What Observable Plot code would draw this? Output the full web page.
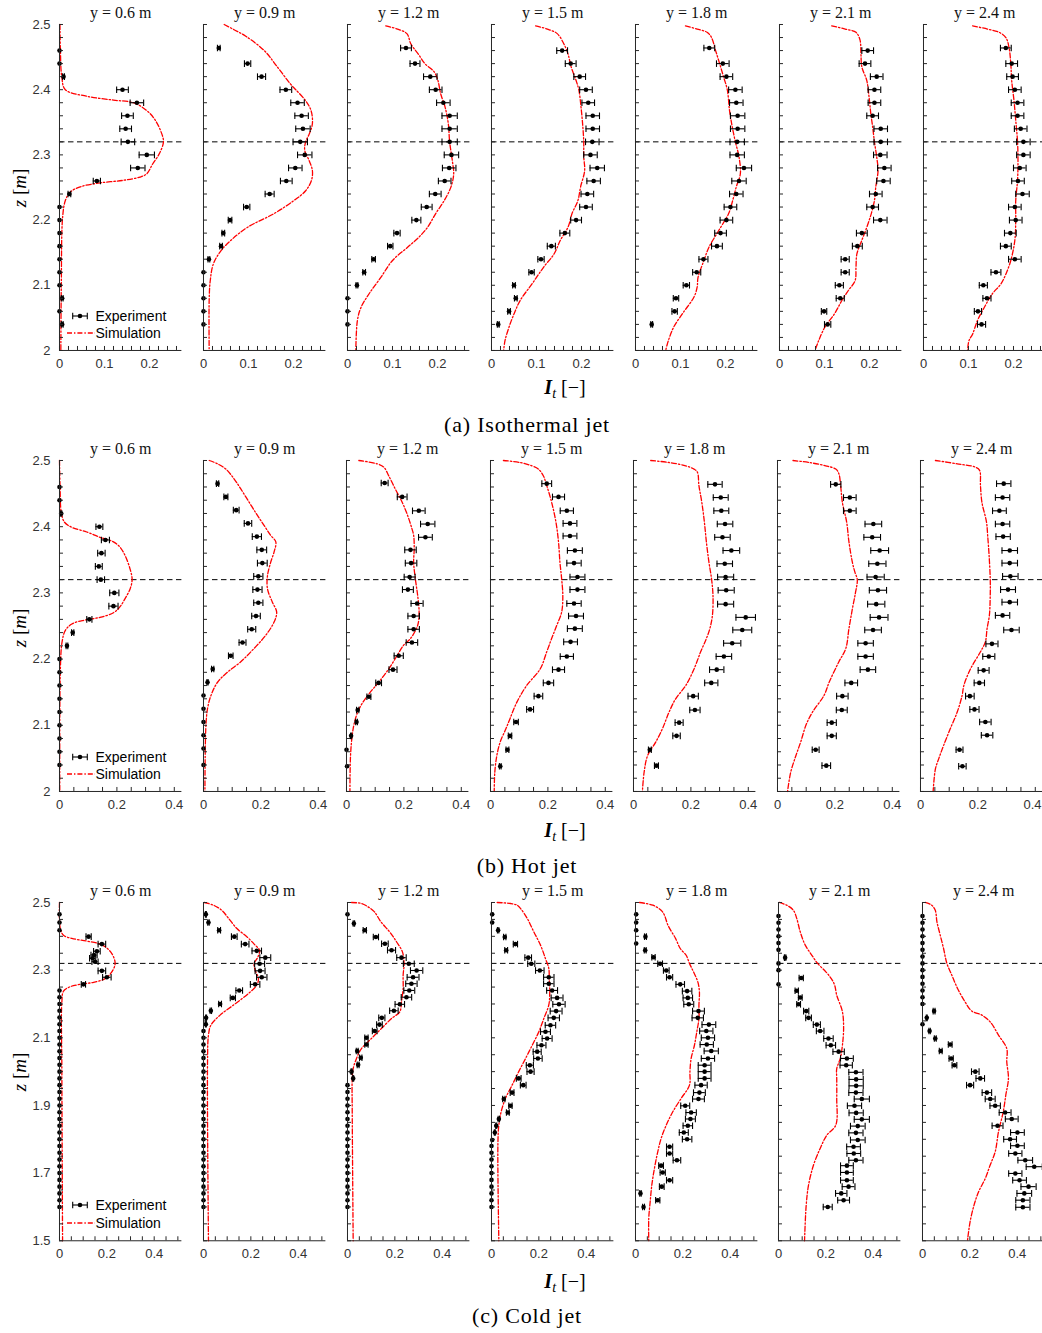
<!DOCTYPE html>
<html><head><meta charset="utf-8">
<script src="https://cdn.jsdelivr.net/npm/d3@7"></script>
<script src="https://cdn.jsdelivr.net/npm/@observablehq/plot@0.6"></script>
<style>
body{margin:0;background:#fff;}
#fig{position:relative;width:1042px;height:1333px;overflow:hidden;background:#fff;}
#fig svg.panel{position:absolute;}
#overlay{position:absolute;left:0;top:0;pointer-events:none;}
</style></head><body><div id="fig"></div>
<script>
// ---------- labels ----------
const yPositions = ["0.6","0.9","1.2","1.5","1.8","2.1","2.4"];
const captions = ["(a) Isothermal jet","(b) Hot jet","(c) Cold jet"];
const refZ = 2.32;
const xTicksA = [0,0.1,0.2], xTicksBC = [0,0.2,0.4];
const zTicksAB = [2,2.1,2.2,2.3,2.4,2.5], zTicksC = [1.5,1.7,1.9,2.1,2.3,2.5];

// ---------- (a) Isothermal jet: experiment [z, It, half error], simulation [z, It] ----------
const isoExp06 = [[2.46,0,0],[2.44,0,0],[2.42,0.009,0.002],[2.40,0.14,0.013],[2.38,0.172,0.015],[2.36,0.151,0.013],[2.34,0.147,0.013],[2.32,0.152,0.015],[2.30,0.194,0.017],[2.28,0.174,0.016],[2.26,0.083,0.008],[2.24,0.022,0.003],[2.22,0,0],[2.20,0,0],[2.18,0,0],[2.16,0,0],[2.14,0,0],[2.12,0,0],[2.10,0,0],[2.08,0.006,0.002],[2.06,0,0],[2.04,0.006,0.002]];
const isoSim06 = [[2.50,0.001],[2.46,0.002],[2.42,0.005],[2.40,0.013],[2.39,0.06],[2.384,0.12],[2.38,0.164],[2.368,0.194],[2.353,0.213],[2.333,0.227],[2.32,0.231],[2.302,0.222],[2.286,0.207],[2.271,0.194],[2.266,0.179],[2.261,0.142],[2.257,0.09],[2.251,0.046],[2.243,0.024],[2.23,0.013],[2.205,0.007],[2.1,0.004],[2.0,0.003]];
const isoExp09 = [[2.464,0.034,0.003],[2.44,0.098,0.007],[2.42,0.129,0.009],[2.40,0.183,0.013],[2.38,0.209,0.015],[2.36,0.218,0.015],[2.34,0.221,0.016],[2.32,0.215,0.016],[2.30,0.225,0.016],[2.28,0.204,0.015],[2.26,0.184,0.013],[2.24,0.147,0.01],[2.22,0.096,0.007],[2.20,0.059,0.004],[2.18,0.044,0.003],[2.16,0.039,0.003],[2.14,0.012,0.002],[2.12,0,0],[2.10,0,0],[2.08,0,0],[2.06,0,0],[2.04,0,0]];
const isoSim09 = [[2.5,0.046],[2.492,0.068],[2.482,0.094],[2.46,0.135],[2.435,0.164],[2.409,0.193],[2.40,0.205],[2.383,0.227],[2.368,0.239],[2.348,0.242],[2.332,0.235],[2.32,0.227],[2.307,0.225],[2.291,0.235],[2.276,0.242],[2.261,0.24],[2.245,0.227],[2.23,0.201],[2.21,0.157],[2.189,0.098],[2.169,0.061],[2.153,0.039],[2.133,0.022],[2.107,0.015],[2.077,0.0126],[2.0,0.0126]];
const isoExp12 = [[2.464,0.13,0.012],[2.44,0.15,0.011],[2.42,0.184,0.015],[2.40,0.196,0.014],[2.38,0.213,0.015],[2.36,0.227,0.017],[2.34,0.227,0.017],[2.32,0.227,0.017],[2.30,0.231,0.016],[2.28,0.226,0.015],[2.26,0.216,0.014],[2.24,0.195,0.013],[2.22,0.176,0.012],[2.20,0.153,0.01],[2.18,0.11,0.007],[2.16,0.095,0.006],[2.14,0.058,0.004],[2.12,0.037,0.003],[2.10,0.021,0.002],[2.08,0,0],[2.06,0,0],[2.04,0,0]];
const isoSim12 = [[2.498,0.085],[2.493,0.111],[2.486,0.132],[2.47,0.141],[2.455,0.157],[2.44,0.172],[2.427,0.193],[2.414,0.201],[2.394,0.207],[2.373,0.217],[2.348,0.224],[2.32,0.227],[2.291,0.233],[2.271,0.236],[2.251,0.23],[2.23,0.215],[2.21,0.196],[2.189,0.178],[2.174,0.159],[2.158,0.133],[2.138,0.1],[2.112,0.074],[2.087,0.048],[2.066,0.03],[2.046,0.022],[2.0,0.0185]];
const isoExp15 = [[2.46,0.157,0.012],[2.44,0.176,0.012],[2.42,0.196,0.013],[2.40,0.21,0.014],[2.38,0.215,0.014],[2.36,0.225,0.015],[2.34,0.225,0.015],[2.32,0.224,0.015],[2.30,0.22,0.015],[2.28,0.235,0.016],[2.26,0.227,0.015],[2.24,0.213,0.014],[2.22,0.21,0.014],[2.20,0.188,0.012],[2.18,0.163,0.011],[2.16,0.133,0.009],[2.14,0.11,0.007],[2.12,0.089,0.006],[2.10,0.05,0.003],[2.08,0.054,0.003],[2.06,0.039,0.003],[2.04,0.015,0.002]];
const isoSim15 = [[2.498,0.098],[2.493,0.124],[2.486,0.146],[2.47,0.161],[2.455,0.17],[2.435,0.177],[2.414,0.188],[2.4,0.194],[2.373,0.199],[2.343,0.203],[2.32,0.205],[2.297,0.205],[2.276,0.207],[2.251,0.198],[2.23,0.192],[2.21,0.179],[2.189,0.17],[2.169,0.153],[2.148,0.139],[2.128,0.116],[2.102,0.09],[2.077,0.064],[2.056,0.05],[2.036,0.039],[2.015,0.03],[2.0,0.027]];
const isoExp18 = [[2.464,0.164,0.012],[2.44,0.194,0.014],[2.42,0.202,0.014],[2.40,0.222,0.015],[2.38,0.224,0.015],[2.36,0.227,0.016],[2.34,0.227,0.016],[2.32,0.226,0.016],[2.30,0.226,0.016],[2.28,0.241,0.017],[2.26,0.23,0.016],[2.24,0.224,0.015],[2.22,0.211,0.014],[2.20,0.202,0.014],[2.18,0.189,0.013],[2.16,0.181,0.012],[2.14,0.151,0.01],[2.12,0.136,0.009],[2.10,0.113,0.007],[2.08,0.09,0.006],[2.06,0.087,0.006],[2.04,0.036,0.002]];
const isoSim18 = [[2.498,0.111],[2.493,0.137],[2.488,0.159],[2.48,0.169],[2.46,0.178],[2.44,0.187],[2.419,0.196],[2.4,0.204],[2.368,0.209],[2.343,0.215],[2.32,0.222],[2.297,0.23],[2.271,0.233],[2.251,0.224],[2.23,0.216],[2.21,0.207],[2.184,0.185],[2.158,0.163],[2.138,0.152],[2.112,0.139],[2.097,0.137],[2.082,0.13],[2.059,0.107],[2.036,0.085],[2.015,0.073],[2.0,0.067]];
const isoExp21 = [[2.46,0.196,0.013],[2.44,0.19,0.013],[2.42,0.216,0.014],[2.40,0.211,0.014],[2.38,0.211,0.014],[2.36,0.207,0.013],[2.34,0.225,0.015],[2.32,0.225,0.015],[2.30,0.224,0.015],[2.28,0.233,0.015],[2.26,0.231,0.015],[2.24,0.214,0.014],[2.22,0.207,0.013],[2.20,0.224,0.015],[2.18,0.183,0.012],[2.16,0.173,0.011],[2.14,0.146,0.009],[2.12,0.146,0.009],[2.10,0.133,0.009],[2.08,0.135,0.009],[2.06,0.099,0.006],[2.04,0.107,0.007]];
const isoSim21 = [[2.498,0.116],[2.493,0.146],[2.488,0.17],[2.476,0.179],[2.455,0.181],[2.435,0.183],[2.414,0.194],[2.389,0.199],[2.363,0.203],[2.343,0.207],[2.32,0.211],[2.297,0.216],[2.276,0.219],[2.251,0.214],[2.23,0.211],[2.21,0.204],[2.189,0.194],[2.169,0.183],[2.148,0.172],[2.128,0.17],[2.107,0.168],[2.092,0.153],[2.077,0.139],[2.056,0.122],[2.036,0.101],[2.015,0.087],[2.0,0.079]];
const isoExp24 = [[2.464,0.183,0.012],[2.44,0.196,0.013],[2.42,0.198,0.013],[2.40,0.203,0.014],[2.38,0.209,0.014],[2.36,0.209,0.014],[2.34,0.216,0.014],[2.32,0.222,0.015],[2.30,0.222,0.015],[2.28,0.214,0.014],[2.26,0.21,0.014],[2.24,0.22,0.015],[2.22,0.203,0.014],[2.20,0.205,0.014],[2.18,0.193,0.013],[2.16,0.183,0.012],[2.14,0.203,0.014],[2.12,0.161,0.011],[2.10,0.133,0.009],[2.08,0.141,0.009],[2.06,0.121,0.008],[2.04,0.129,0.009]];
const isoSim24 = [[2.498,0.109],[2.493,0.142],[2.488,0.168],[2.48,0.183],[2.465,0.19],[2.44,0.194],[2.414,0.196],[2.384,0.201],[2.353,0.205],[2.32,0.209],[2.291,0.21],[2.261,0.209],[2.23,0.205],[2.2,0.205],[2.169,0.203],[2.138,0.194],[2.117,0.183],[2.102,0.172],[2.087,0.153],[2.066,0.135],[2.046,0.12],[2.025,0.109],[2.015,0.101],[2.0,0.098]];

// ---------- (b) Hot jet ----------
const hotExp06 = [[2.46,0,0],[2.44,0,0],[2.42,0.006,0.002],[2.40,0.139,0.012],[2.38,0.16,0.014],[2.36,0.146,0.013],[2.34,0.137,0.012],[2.32,0.144,0.013],[2.30,0.191,0.016],[2.28,0.188,0.016],[2.26,0.104,0.009],[2.24,0.046,0.004],[2.22,0.026,0.003],[2.20,0,0],[2.18,0,0],[2.16,0,0],[2.14,0,0],[2.12,0,0],[2.10,0,0],[2.08,0,0],[2.06,0,0],[2.04,0,0]];
const hotSim06 = [[2.5,0],[2.46,0.002],[2.422,0.006],[2.407,0.017],[2.399,0.043],[2.392,0.095],[2.384,0.141],[2.377,0.188],[2.369,0.211],[2.357,0.228],[2.336,0.246],[2.32,0.253],[2.306,0.246],[2.291,0.228],[2.278,0.209],[2.27,0.188],[2.263,0.141],[2.259,0.089],[2.253,0.043],[2.243,0.02],[2.226,0.009],[2.185,0.003],[2.0,0.001]];
const hotExp09 = [[2.465,0.049,0.004],[2.445,0.078,0.007],[2.425,0.114,0.01],[2.405,0.155,0.013],[2.385,0.186,0.016],[2.365,0.203,0.017],[2.345,0.205,0.017],[2.325,0.191,0.016],[2.305,0.188,0.016],[2.285,0.191,0.016],[2.265,0.183,0.015],[2.245,0.168,0.014],[2.225,0.136,0.012],[2.205,0.095,0.008],[2.185,0.032,0.004],[2.165,0.014,0.002],[2.145,0,0],[2.125,0,0],[2.105,0,0],[2.085,0,0],[2.065,0,0],[2.04,0,0]];
const hotSim09 = [[2.5,0.02],[2.495,0.049],[2.487,0.078],[2.472,0.107],[2.457,0.13],[2.437,0.159],[2.417,0.188],[2.402,0.211],[2.387,0.234],[2.377,0.252],[2.362,0.246],[2.346,0.234],[2.326,0.223],[2.306,0.223],[2.286,0.24],[2.271,0.255],[2.256,0.246],[2.236,0.217],[2.216,0.176],[2.196,0.13],[2.18,0.083],[2.165,0.049],[2.145,0.026],[2.125,0.014],[2.095,0.008],[2.0,0.005]];
const hotExp12 = [[2.466,0.133,0.012],[2.445,0.194,0.017],[2.424,0.252,0.022],[2.404,0.283,0.025],[2.384,0.275,0.024],[2.365,0.223,0.02],[2.345,0.225,0.02],[2.324,0.22,0.019],[2.305,0.214,0.019],[2.284,0.246,0.021],[2.265,0.234,0.02],[2.245,0.234,0.02],[2.225,0.228,0.02],[2.205,0.182,0.016],[2.184,0.162,0.014],[2.164,0.112,0.01],[2.143,0.078,0.007],[2.123,0.039,0.004],[2.105,0.035,0.003],[2.084,0.016,0.002],[2.063,0,0],[2.038,0.002,0]];
const hotSim12 = [[2.5,0.043],[2.495,0.107],[2.49,0.13],[2.477,0.147],[2.457,0.17],[2.437,0.194],[2.417,0.213],[2.397,0.228],[2.387,0.234],[2.367,0.236],[2.346,0.234],[2.321,0.24],[2.296,0.248],[2.271,0.253],[2.251,0.248],[2.231,0.223],[2.221,0.199],[2.205,0.176],[2.185,0.147],[2.165,0.112],[2.144,0.072],[2.124,0.043],[2.105,0.028],[2.085,0.02],[2.054,0.014],[2.0,0.012]];
const hotExp15 = [[2.465,0.196,0.017],[2.445,0.237,0.021],[2.424,0.266,0.023],[2.405,0.277,0.024],[2.386,0.277,0.024],[2.364,0.294,0.026],[2.345,0.291,0.025],[2.324,0.303,0.026],[2.305,0.303,0.026],[2.284,0.291,0.025],[2.265,0.298,0.026],[2.246,0.294,0.026],[2.226,0.279,0.024],[2.204,0.266,0.023],[2.184,0.237,0.021],[2.164,0.202,0.018],[2.144,0.167,0.015],[2.124,0.138,0.012],[2.105,0.089,0.008],[2.084,0.068,0.006],[2.063,0.059,0.005],[2.038,0.034,0.003]];
const hotSim15 = [[2.5,0.045],[2.497,0.103],[2.492,0.144],[2.487,0.167],[2.477,0.184],[2.462,0.196],[2.437,0.213],[2.407,0.228],[2.377,0.237],[2.346,0.242],[2.321,0.248],[2.296,0.252],[2.271,0.248],[2.251,0.231],[2.231,0.213],[2.211,0.196],[2.185,0.173],[2.16,0.126],[2.135,0.092],[2.11,0.068],[2.095,0.054],[2.075,0.034],[2.054,0.022],[2.029,0.015],[2.0,0.013]];
const hotExp18 = [[2.464,0.284,0.025],[2.444,0.304,0.026],[2.424,0.306,0.026],[2.404,0.319,0.027],[2.384,0.31,0.027],[2.364,0.341,0.029],[2.344,0.318,0.027],[2.324,0.321,0.028],[2.304,0.323,0.028],[2.283,0.321,0.028],[2.263,0.391,0.034],[2.244,0.379,0.033],[2.224,0.344,0.03],[2.204,0.315,0.027],[2.184,0.29,0.025],[2.164,0.271,0.023],[2.144,0.208,0.018],[2.123,0.214,0.018],[2.104,0.159,0.014],[2.084,0.15,0.013],[2.063,0.057,0.005],[2.039,0.08,0.007]];
const hotSim18 = [[2.5,0.06],[2.497,0.124],[2.492,0.182],[2.487,0.211],[2.482,0.223],[2.462,0.228],[2.437,0.238],[2.407,0.247],[2.377,0.254],[2.346,0.263],[2.321,0.272],[2.296,0.277],[2.266,0.275],[2.246,0.266],[2.231,0.254],[2.211,0.234],[2.185,0.211],[2.16,0.182],[2.14,0.147],[2.12,0.124],[2.095,0.101],[2.075,0.078],[2.054,0.049],[2.029,0.037],[2.0,0.031]];
const hotExp21 = [[2.464,0.203,0.018],[2.444,0.252,0.022],[2.424,0.252,0.022],[2.404,0.334,0.029],[2.384,0.33,0.029],[2.364,0.356,0.031],[2.344,0.348,0.03],[2.324,0.342,0.03],[2.304,0.35,0.03],[2.283,0.344,0.03],[2.263,0.354,0.031],[2.244,0.333,0.029],[2.224,0.307,0.027],[2.204,0.307,0.027],[2.184,0.315,0.027],[2.164,0.257,0.022],[2.144,0.226,0.02],[2.123,0.224,0.019],[2.104,0.189,0.016],[2.084,0.189,0.016],[2.063,0.133,0.012],[2.039,0.17,0.015]];
const hotSim21 = [[2.5,0.054],[2.497,0.11],[2.492,0.168],[2.487,0.203],[2.48,0.214],[2.462,0.22],[2.437,0.226],[2.407,0.241],[2.377,0.249],[2.346,0.261],[2.331,0.27],[2.32,0.278],[2.301,0.272],[2.276,0.261],[2.246,0.249],[2.216,0.238],[2.196,0.214],[2.165,0.18],[2.145,0.162],[2.12,0.122],[2.1,0.099],[2.075,0.081],[2.054,0.064],[2.029,0.046],[2.0,0.035]];
const hotExp24 = [[2.465,0.29,0.025],[2.444,0.286,0.025],[2.424,0.275,0.024],[2.404,0.286,0.025],[2.385,0.288,0.025],[2.364,0.311,0.027],[2.345,0.311,0.027],[2.325,0.313,0.027],[2.305,0.305,0.026],[2.286,0.311,0.027],[2.266,0.286,0.025],[2.244,0.317,0.027],[2.223,0.249,0.021],[2.204,0.238,0.021],[2.183,0.22,0.019],[2.164,0.205,0.018],[2.144,0.172,0.015],[2.124,0.188,0.016],[2.105,0.226,0.02],[2.085,0.232,0.02],[2.063,0.136,0.012],[2.038,0.146,0.013]];
const hotSim24 = [[2.5,0.052],[2.495,0.128],[2.49,0.191],[2.485,0.206],[2.462,0.209],[2.437,0.214],[2.407,0.23],[2.387,0.234],[2.357,0.239],[2.321,0.243],[2.296,0.243],[2.266,0.24],[2.246,0.232],[2.226,0.226],[2.211,0.209],[2.185,0.174],[2.16,0.151],[2.145,0.145],[2.12,0.128],[2.095,0.104],[2.07,0.081],[2.05,0.064],[2.034,0.052],[2.0,0.044]];

// ---------- (c) Cold jet ----------
const coldExp06 = [[2.465,0,0],[2.441,0,0],[2.418,0,0],[2.399,0.123,0.011],[2.377,0.179,0.016],[2.356,0.158,0.014],[2.345,0.146,0.013],[2.335,0.14,0.013],[2.325,0.15,0.013],[2.298,0.179,0.016],[2.279,0.2,0.018],[2.258,0.101,0.009],
 [2.24,0,0],[2.22,0,0],[2.20,0,0],[2.18,0,0],[2.16,0,0],[2.14,0,0],[2.12,0,0],[2.10,0,0],[2.08,0,0],[2.06,0,0],[2.04,0,0],[2.02,0,0],[2.00,0,0],[1.98,0,0],[1.96,0,0],[1.94,0,0],[1.92,0,0],[1.90,0,0],[1.88,0,0],[1.86,0,0],[1.84,0,0],[1.82,0,0],[1.80,0,0],[1.78,0,0],[1.76,0,0],[1.74,0,0],[1.72,0,0],[1.70,0,0],[1.68,0,0],[1.66,0,0],[1.64,0,0],[1.62,0,0],[1.60,0,0]];
const coldSim06 = [[2.5,0],[2.424,0.003],[2.403,0.017],[2.394,0.052],[2.386,0.115],[2.379,0.165],[2.369,0.193],[2.349,0.221],[2.32,0.235],[2.295,0.221],[2.275,0.193],[2.264,0.144],[2.258,0.087],[2.251,0.045],[2.238,0.017],[2.206,0.01],[2.0,0.01],[1.5,0.013]];
const coldExp09 = [[2.465,0.01,0.002],[2.441,0.021,0.003],[2.418,0.066,0.006],[2.399,0.13,0.012],[2.377,0.176,0.016],[2.357,0.225,0.02],[2.337,0.261,0.023],[2.319,0.237,0.021],[2.298,0.239,0.021],[2.279,0.246,0.022],[2.258,0.218,0.02],[2.24,0.151,0.014],[2.218,0.124,0.011],[2.2,0.07,0.006],[2.18,0.031,0.003],[2.159,0.011,0.002],[2.14,0.01,0.002],
 [2.12,0,0],[2.10,0,0],[2.08,0,0],[2.06,0,0],[2.04,0,0],[2.02,0,0],[2.00,0,0],[1.98,0,0],[1.96,0,0],[1.94,0,0],[1.92,0,0],[1.90,0,0],[1.88,0,0],[1.86,0,0],[1.84,0,0],[1.82,0,0],[1.80,0,0],[1.78,0,0],[1.76,0,0],[1.74,0,0],[1.72,0,0],[1.70,0,0],[1.68,0,0],[1.66,0,0],[1.64,0,0],[1.62,0,0],[1.60,0,0]];
const coldSim09 = [[2.5,0.003],[2.492,0.042],[2.477,0.077],[2.453,0.106],[2.423,0.141],[2.399,0.183],[2.374,0.218],[2.359,0.237],[2.339,0.23],[2.32,0.214],[2.3,0.218],[2.275,0.232],[2.256,0.225],[2.231,0.19],[2.197,0.127],[2.167,0.07],[2.137,0.031],[2.108,0.021],[2.029,0.017],[1.5,0.021]];
const coldExp12 = [[2.465,0,0],[2.438,0.027,0.003],[2.418,0.073,0.007],[2.398,0.12,0.011],[2.378,0.158,0.014],[2.359,0.186,0.017],[2.337,0.228,0.02],[2.319,0.259,0.023],[2.299,0.292,0.026],[2.279,0.277,0.025],[2.26,0.27,0.024],[2.24,0.261,0.023],[2.22,0.249,0.022],[2.199,0.221,0.02],[2.18,0.196,0.018],[2.159,0.145,0.013],[2.139,0.135,0.012],[2.12,0.115,0.01],[2.1,0.08,0.007],[2.08,0.08,0.007],[2.061,0.041,0.004],[2.041,0.056,0.005],[2.02,0.045,0.004],[2.0,0.017,0.002],[1.98,0.024,0.002],
 [1.96,0,0],[1.94,0,0],[1.92,0,0],[1.90,0,0],[1.88,0,0],[1.86,0,0],[1.84,0,0],[1.82,0,0],[1.80,0,0],[1.78,0,0],[1.76,0,0],[1.74,0,0],[1.72,0,0],[1.70,0,0],[1.68,0,0],[1.66,0,0],[1.64,0,0],[1.62,0,0],[1.60,0,0]];
const coldSim12 = [[2.5,0.017],[2.497,0.059],[2.487,0.087],[2.473,0.113],[2.443,0.141],[2.413,0.178],[2.384,0.207],[2.354,0.232],[2.32,0.239],[2.285,0.235],[2.246,0.235],[2.206,0.228],[2.177,0.221],[2.157,0.186],[2.128,0.144],[2.098,0.101],[2.068,0.059],[2.039,0.038],[2.009,0.024],[1.98,0.02],[1.88,0.02],[1.5,0.024]];
const coldExp15 = [[2.465,0.003,0],[2.441,0.003,0],[2.418,0.028,0.003],[2.398,0.056,0.005],[2.377,0.101,0.009],[2.359,0.062,0.006],[2.337,0.155,0.014],[2.319,0.168,0.015],[2.299,0.204,0.018],[2.279,0.242,0.022],[2.26,0.242,0.022],[2.24,0.256,0.023],[2.218,0.277,0.025],[2.199,0.285,0.026],[2.179,0.273,0.025],[2.159,0.263,0.024],[2.137,0.249,0.022],[2.118,0.228,0.021],[2.098,0.235,0.021],[2.078,0.211,0.019],[2.059,0.193,0.017],[2.039,0.196,0.018],[2.019,0.162,0.015],[2.0,0.165,0.015],[1.98,0.115,0.01],[1.96,0.134,0.012],[1.938,0.087,0.008],[1.919,0.052,0.005],[1.899,0.08,0.007],[1.879,0.069,0.006],[1.86,0.031,0.003],[1.84,0.02,0.002],[1.82,0.014,0.002],[1.798,0.003,0],
 [1.78,0,0],[1.76,0,0],[1.74,0,0],[1.72,0,0],[1.70,0,0],[1.68,0,0],[1.66,0,0],[1.64,0,0],[1.62,0,0],[1.60,0,0]];
const coldSim15 = [[2.5,0.024],[2.497,0.08],[2.492,0.108],[2.482,0.123],[2.453,0.151],[2.413,0.179],[2.374,0.207],[2.334,0.228],[2.305,0.242],[2.275,0.244],[2.236,0.246],[2.197,0.242],[2.157,0.221],[2.118,0.2],[2.078,0.172],[2.039,0.144],[2.0,0.115],[1.96,0.087],[1.921,0.059],[1.882,0.041],[1.842,0.031],[1.783,0.027],[1.5,0.031]];
const coldExp18 = [[2.465,0.003,0],[2.441,0.003,0],[2.418,0.003,0],[2.399,0.042,0.004],[2.379,0.003,0],[2.359,0.041,0.004],[2.338,0.076,0.007],[2.319,0.104,0.01],[2.299,0.13,0.012],[2.279,0.144,0.013],[2.258,0.189,0.018],[2.238,0.218,0.02],[2.218,0.221,0.02],[2.199,0.225,0.021],[2.179,0.266,0.025],[2.159,0.263,0.024],[2.139,0.31,0.029],[2.12,0.299,0.028],[2.1,0.306,0.028],[2.08,0.301,0.028],[2.061,0.32,0.03],[2.039,0.306,0.028],[2.019,0.292,0.027],[2.0,0.292,0.027],[1.98,0.292,0.027],[1.96,0.277,0.026],[1.938,0.27,0.025],[1.919,0.266,0.025],[1.899,0.21,0.019],[1.879,0.235,0.022],[1.86,0.232,0.021],[1.84,0.221,0.02],[1.82,0.204,0.019],[1.8,0.218,0.02],[1.778,0.144,0.013],[1.758,0.144,0.013],[1.738,0.175,0.016],[1.722,0.108,0.01],[1.702,0.115,0.011],[1.679,0.144,0.013],[1.66,0.111,0.01],[1.64,0.021,0.003],[1.62,0.094,0.009],[1.6,0.034,0.004]];
const coldSim18 = [[2.5,0.017],[2.492,0.073],[2.477,0.108],[2.463,0.122],[2.433,0.137],[2.394,0.169],[2.364,0.189],[2.344,0.214],[2.32,0.228],[2.295,0.245],[2.266,0.263],[2.236,0.27],[2.197,0.268],[2.157,0.268],[2.118,0.259],[2.078,0.249],[2.039,0.235],[2.0,0.23],[1.96,0.228],[1.921,0.193],[1.882,0.158],[1.842,0.13],[1.802,0.108],[1.763,0.094],[1.714,0.08],[1.665,0.069],[1.615,0.062],[1.566,0.056],[1.5,0.056]];
const coldExp21 = [[2.46,0,0],[2.44,0,0],[2.42,0,0],[2.40,0,0],[2.38,0,0],[2.36,0,0],[2.337,0.028,0.003],[2.32,0,0],[2.30,0,0],[2.277,0.096,0.009],[2.258,0,0],[2.239,0.077,0.007],[2.219,0.092,0.008],[2.199,0.085,0.008],[2.179,0.117,0.011],[2.159,0.127,0.012],[2.139,0.162,0.015],[2.12,0.176,0.016],[2.098,0.211,0.02],[2.078,0.221,0.02],[2.059,0.254,0.024],[2.039,0.289,0.027],[2.019,0.286,0.026],[1.998,0.327,0.03],[1.977,0.328,0.03],[1.958,0.328,0.03],[1.938,0.327,0.03],[1.919,0.352,0.032],[1.899,0.321,0.03],[1.878,0.328,0.03],[1.859,0.352,0.032],[1.839,0.335,0.031],[1.819,0.327,0.03],[1.798,0.335,0.031],[1.778,0.317,0.029],[1.758,0.318,0.029],[1.738,0.327,0.03],[1.722,0.289,0.027],[1.702,0.289,0.027],[1.679,0.289,0.027],[1.66,0.296,0.027],[1.64,0.265,0.024],[1.62,0.275,0.025],[1.6,0.208,0.019]];
const coldSim21 = [[2.5,0.003],[2.492,0.035],[2.477,0.063],[2.453,0.077],[2.413,0.092],[2.374,0.113],[2.344,0.141],[2.32,0.165],[2.295,0.2],[2.275,0.223],[2.256,0.237],[2.226,0.246],[2.177,0.27],[2.128,0.275],[2.078,0.27],[2.039,0.261],[2.009,0.246],[1.98,0.246],[1.921,0.246],[1.842,0.242],[1.812,0.204],[1.773,0.176],[1.724,0.148],[1.665,0.127],[1.605,0.117],[1.5,0.11]];
const coldExp24 = [[2.46,0,0],[2.44,0,0],[2.42,0,0],[2.40,0,0],[2.38,0,0],[2.36,0,0],[2.34,0,0],[2.32,0,0],[2.30,0,0],[2.28,0,0],[2.26,0,0],[2.24,0,0],[2.22,0,0],[2.20,0,0],
 [2.179,0.049,0.004],[2.159,0.018,0.002],[2.14,0,0],[2.12,0.03,0.003],[2.098,0.054,0.004],[2.08,0.117,0.008],[2.061,0.077,0.006],[2.039,0.121,0.009],[2.019,0.135,0.01],[2.0,0.223,0.016],[1.98,0.244,0.018],[1.96,0.201,0.015],[1.938,0.272,0.02],[1.919,0.286,0.021],[1.899,0.307,0.022],[1.879,0.349,0.025],[1.86,0.377,0.027],[1.84,0.317,0.023],[1.82,0.401,0.029],[1.8,0.37,0.027],[1.781,0.401,0.029],[1.758,0.392,0.028],[1.738,0.434,0.031],[1.719,0.472,0.034],[1.699,0.392,0.028],[1.679,0.41,0.029],[1.66,0.448,0.032],[1.64,0.43,0.031],[1.62,0.424,0.03],[1.599,0.424,0.03]];
const coldSim24 = [[2.5,0.011],[2.492,0.039],[2.477,0.054],[2.443,0.061],[2.403,0.075],[2.364,0.089],[2.32,0.103],[2.285,0.124],[2.246,0.148],[2.206,0.18],[2.179,0.208],[2.167,0.251],[2.147,0.286],[2.108,0.321],[2.068,0.356],[2.029,0.356],[1.98,0.363],[1.931,0.352],[1.881,0.341],[1.822,0.321],[1.763,0.307],[1.724,0.286],[1.684,0.265],[1.645,0.237],[1.606,0.218],[1.556,0.201],[1.5,0.19]];

// ---------- layout ----------
const rows = [
  {exps:[isoExp06,isoExp09,isoExp12,isoExp15,isoExp18,isoExp21,isoExp24], sims:[isoSim06,isoSim09,isoSim12,isoSim15,isoSim18,isoSim21,isoSim24],
   xDomain:[0,0.272], xMajor:xTicksA, xMinor:d3.range(0,0.2701,0.02), yDomain:[2,2.5], yMajor:zTicksAB, yMinor:d3.range(2,2.5001,0.02),
   top:24, bottom:350, x0:59.3, stride:143.9, legY:[316,333], capY:424, xlabY:387, zlabY:188},
  {exps:[hotExp06,hotExp09,hotExp12,hotExp15,hotExp18,hotExp21,hotExp24], sims:[hotSim06,hotSim09,hotSim12,hotSim15,hotSim18,hotSim21,hotSim24],
   xDomain:[0,0.4265], xMajor:xTicksBC, xMinor:d3.range(0,0.4001,0.05), yDomain:[2,2.5], yMajor:zTicksAB, yMinor:d3.range(2,2.5001,0.02),
   top:460, bottom:791, x0:59.3, stride:143.45, legY:[757,774], capY:865, xlabY:830, zlabY:628},
  {exps:[coldExp06,coldExp09,coldExp12,coldExp15,coldExp18,coldExp21,coldExp24], sims:[coldSim06,coldSim09,coldSim12,coldSim15,coldSim18,coldSim21,coldSim24],
   xDomain:[0,0.517], xMajor:xTicksBC, xMinor:d3.range(0,0.5001,0.05), yDomain:[1.5,2.5], yMajor:zTicksC, yMinor:d3.range(1.5,2.5001,0.05),
   top:902, bottom:1240.3, x0:59.3, stride:143.8, legY:[1205,1223], capY:1315, xlabY:1281, zlabY:1072}
];

const PW = 122.4, ML = 36, MR = 8, MT = 28, MB = 28;
const AX = "#262626";
const SANS = "'Liberation Sans', Arial, Helvetica, sans-serif";
const SERIF = "'Liberation Serif', 'Times New Roman', serif";
const vbar = {draw(ctx, size){ const h = Math.sqrt(size / Math.PI); ctx.moveTo(0, -h); ctx.lineTo(0, h); }};
const fig = document.getElementById("fig");

rows.forEach((row, ri) => {
  const H = row.bottom - row.top;
  row.exps.forEach((exp, i) => {
    const sim = row.sims[i];
    const withErr = exp.filter(d => d[2] > 0);
    const left = row.x0 + i * row.stride;
    // tick labels: keep the last one inside the picture when the panel reaches the right edge
    const xScaleEnd = left + PW;
    const lastTick = row.xMajor[row.xMajor.length - 1];
    const lastPx = left + (lastTick / row.xDomain[1]) * PW;
    const squeeze = lastPx + 10 > 1042;
    const inner = squeeze ? row.xMajor.slice(0, -1) : row.xMajor;
    const svg = Plot.plot({
      width: ML + PW + MR, height: MT + H + MB,
      marginLeft: ML, marginRight: MR, marginTop: MT, marginBottom: MB,
      x: {domain: row.xDomain, axis: null},
      y: {domain: row.yDomain, axis: null},
      style: {fontFamily: SANS, fontSize: "13px", color: "#333", background: "transparent", overflow: "visible"},
      marks: [
        Plot.ruleY([refZ], {stroke: "#000", strokeWidth: 1, strokeDasharray: "5.5,3.5"}),
        Plot.line(sim, {x: d => d[1], y: d => d[0], stroke: "#ff0000", strokeWidth: 1.3, strokeDasharray: "5,2,1.4,2", curve: "catmull-rom"}),
        Plot.ruleY(withErr, {y: d => d[0], x1: d => d[1] - d[2], x2: d => d[1] + d[2], stroke: "#000", strokeWidth: 1.1}),
        Plot.dot(withErr, {x: d => d[1] - d[2], y: d => d[0], symbol: vbar, r: 3.3, fill: "none", stroke: "#000", strokeWidth: 1.1}),
        Plot.dot(withErr, {x: d => d[1] + d[2], y: d => d[0], symbol: vbar, r: 3.3, fill: "none", stroke: "#000", strokeWidth: 1.1}),
        Plot.dot(exp, {x: d => d[1], y: d => d[0], r: 2.3, fill: "#000", stroke: "none"}),
        Plot.ruleX([row.xDomain[0]], {stroke: AX, strokeWidth: 1}),
        Plot.ruleY([row.yDomain[0]], {stroke: AX, strokeWidth: 1}),
        Plot.tickY(row.yMinor, {y: d => d, insetRight: PW - 4, stroke: AX, strokeWidth: 1}),
        Plot.tickX(row.xMinor, {x: d => d, insetTop: H - 4, stroke: AX, strokeWidth: 1}),
        Plot.axisX(inner, {tickSize: 0, tickPadding: 8, tickFormat: d => String(d), label: null, fill: "#333"}),
        squeeze ? Plot.axisX([lastTick], {tickSize: 0, tickPadding: 8, tickFormat: d => String(d), label: null, fill: "#333", textAnchor: "end", dx: 1042 - lastPx - 1}) : null,
        i === 0 ? Plot.axisY(row.yMajor, {tickSize: 0, tickPadding: 9, tickFormat: d => String(d), label: null, fill: "#333"}) : null,
        Plot.text([`y = ${yPositions[i]} m`], {text: d => d, frameAnchor: "top", lineAnchor: "middle", dy: -12, fontFamily: SERIF, fontSize: 16, fill: "#111"})
      ]
    });
    svg.classList.add("panel");
    svg.style.left = (left - ML) + "px";
    svg.style.top = (row.top - MT) + "px";
    fig.appendChild(svg);
  });
});

// ---------- overlay: legends, axis titles, captions ----------
let ov = `<svg id="overlay" width="1042" height="1333" xmlns="http://www.w3.org/2000/svg">`;
rows.forEach((row, ri) => {
  const [ly1, ly2] = row.legY;
  ov += `<g stroke="#000" stroke-width="1.1"><line x1="72.7" x2="87.3" y1="${ly1}" y2="${ly1}"/><line x1="72.7" x2="72.7" y1="${ly1-3.3}" y2="${ly1+3.3}"/><line x1="87.3" x2="87.3" y1="${ly1-3.3}" y2="${ly1+3.3}"/></g>`;
  ov += `<circle cx="80" cy="${ly1}" r="2.3" fill="#000"/>`;
  ov += `<text x="95.5" y="${ly1}" dy="0.35em" font-family="${SANS}" font-size="14" fill="#000">Experiment</text>`;
  ov += `<line x1="67" x2="95" y1="${ly2}" y2="${ly2}" stroke="#ff0000" stroke-width="1.3" stroke-dasharray="5,2,1.4,2"/>`;
  ov += `<text x="95.5" y="${ly2}" dy="0.35em" font-family="${SANS}" font-size="14" fill="#000">Simulation</text>`;
  ov += `<text transform="translate(19,${row.zlabY}) rotate(-90)" text-anchor="middle" dy="0.35em" font-family="${SERIF}" font-size="19" fill="#000"><tspan font-style="italic">z</tspan> [<tspan font-style="italic">m</tspan>]</text>`;
  ov += `<text x="565" y="${row.xlabY}" text-anchor="middle" dy="0.35em" font-family="${SERIF}" font-size="20" fill="#000"><tspan font-style="italic" font-weight="bold">I</tspan><tspan font-style="italic" font-size="14" dy="4">t</tspan><tspan dy="-4"> [−]</tspan></text>`;
  ov += `<text x="527" y="${row.capY}" text-anchor="middle" dy="0.35em" font-family="${SERIF}" font-size="22" letter-spacing="0.8" fill="#000">${captions[ri]}</text>`;
});
ov += `</svg>`;
fig.insertAdjacentHTML("beforeend", ov);
</script>
</body></html>
